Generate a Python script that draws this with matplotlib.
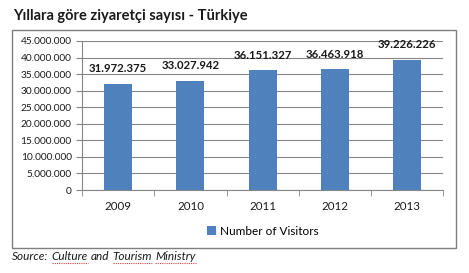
import matplotlib.pyplot as plt
from matplotlib.patches import Rectangle
from matplotlib.lines import Line2D
from matplotlib.ticker import FuncFormatter

years = ["2009", "2010", "2011", "2012", "2013"]
visitors = [31972375, 33027942, 36151327, 36463918, 39226226]

plt.rcParams['font.family'] = ['Lato', 'DejaVu Sans']


def dot_thousands(v, pos=None):
    return f"{int(v):,}".replace(",", ".")


fig = plt.figure(figsize=(4.69, 2.73), dpi=100)
fig.patch.set_facecolor("white")

# outer chart frame
fig.patches.append(Rectangle((0.026, 0.092), 0.946, 0.798, transform=fig.transFigure,
                             fill=False, edgecolor="#7f7f7f", linewidth=1.0))

ax = fig.add_axes([0.175, 0.304, 0.77, 0.546])
x = range(len(years))
ax.bar(x, visitors, width=0.39, color="#4f81bd", label="Number of Visitors", zorder=3)

for i, v in enumerate(visitors):
    ax.text(i, v + 2900000, dot_thousands(v), ha="center", va="bottom",
            fontsize=8.2, fontweight="bold", color="#1a1a1a")

ax.set_ylim(0, 45000000)
ax.set_xlim(-0.5, len(years) - 0.5)
ax.set_yticks(range(0, 45000001, 5000000))
ax.yaxis.set_major_formatter(FuncFormatter(dot_thousands))
ax.set_xticks(list(x))
ax.set_xticklabels(years)
ax.set_xticks([i - 0.5 for i in range(len(years) + 1)], minor=True)
ax.tick_params(axis="x", which="major", length=0, pad=8, labelsize=8.3, colors="#1a1a1a")
ax.tick_params(axis="x", which="minor", length=4, color="#868686")
ax.tick_params(axis="y", length=4, color="#868686", labelsize=7.3, labelcolor="#1a1a1a")
ax.grid(axis="y", color="#868686", linewidth=0.8, zorder=0)
for s in ["top", "right"]:
    ax.spines[s].set_visible(False)
ax.spines["left"].set_color("#868686")
ax.spines["bottom"].set_color("#868686")

fig.text(0.028, 0.94, "Yıllara göre ziyaretçi sayısı - Türkiye", fontsize=10.5,
         fontweight="bold", ha="left", va="center", color="#1a1a1a")

ax.legend(loc="upper center", bbox_to_anchor=(0.5, -0.17), frameon=False, fontsize=8.5,
          handlelength=0.8, handleheight=0.8, handletextpad=0.3)

# source line, words drawn one by one so the spell-check squiggle can sit under some
words = ["Source:", "Culture", "and", "Tourism", "Ministry"]
flagged = {"Culture", "Tourism", "Ministry"}
renderer = fig.canvas.get_renderer()
xpos = 0.026
space = 3.2 / 469
for w in words:
    t = fig.text(xpos, 0.062, w, fontsize=8.5, fontstyle="italic", ha="left",
                 va="center", color="#1a1a1a")
    bb = t.get_window_extent(renderer).transformed(fig.transFigure.inverted())
    if w in flagged:
        fig.lines.append(Line2D([bb.x0, bb.x1], [bb.y0 - 0.004, bb.y0 - 0.004],
                                transform=fig.transFigure, color="#e04040",
                                linewidth=0.8, linestyle=(0, (1, 1))))
    xpos = bb.x1 + space

fig.savefig("out.png", dpi=100)
